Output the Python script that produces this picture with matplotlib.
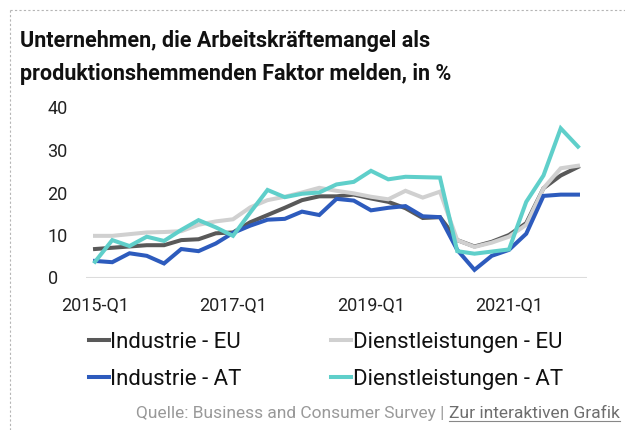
import matplotlib

matplotlib.use("Agg")
import matplotlib.pyplot as plt  # noqa: E402
from matplotlib.lines import Line2D  # noqa: E402

FONT = ["Liberation Sans Narrow", "Roboto", "DejaVu Sans"]
plt.rcParams["font.family"] = FONT

# quarterly, 2015-Q1 .. 2022-Q1
quarters = [f"{y}-Q{q}" for y in range(2015, 2023) for q in range(1, 5)][:29]
tick_labels = ["2015-Q1", "2017-Q1", "2019-Q1", "2021-Q1"]

industrie_eu = [6.7, 7.0, 7.3, 7.6, 7.6, 8.8, 9.0, 10.4, 10.6, 13.0, 14.7, 16.4, 18.2,
                19.1, 19.1, 19.5, 18.6, 17.8, 16.3, 14.0, 14.2, 8.8, 7.3, 8.4, 10.0,
                12.8, 21.0, 24.0, 26.0]
dienst_eu = [9.8, 9.8, 10.2, 10.6, 10.7, 10.9, 12.4, 13.2, 13.7, 16.5, 18.2, 19.0, 20.0,
             21.1, 20.4, 19.8, 19.0, 18.4, 20.4, 18.8, 20.2, 8.8, 7.2, 8.2, 9.6,
             12.4, 21.0, 25.7, 26.3]
industrie_at = [3.9, 3.6, 5.7, 5.1, 3.3, 6.7, 6.2, 8.0, 10.5, 12.2, 13.6, 13.8, 15.5,
                14.7, 18.5, 18.1, 15.8, 16.4, 16.8, 14.4, 14.2, 6.5, 1.8, 5.1, 6.5,
                10.3, 19.2, 19.5, 19.5]
dienst_at = [3.7, 8.8, 7.4, 9.6, 8.6, 11.2, 13.5, 11.8, 9.8, 15.3, 20.6, 18.9, 19.7,
             20.0, 21.9, 22.5, 25.1, 23.1, 23.7, 23.6, 23.5, 6.2, 5.6, 6.1, 6.6,
             17.8, 24.0, 35.1, 30.8]

series = [
    ("Industrie - EU", industrie_eu, "#595959"),
    ("Dienstleistungen - EU", dienst_eu, "#d0d0d0"),
    ("Industrie - AT", industrie_at, "#2d5bbd"),
    ("Dienstleistungen - AT", dienst_at, "#5fcfca"),
]

W, H = 625, 430
fig = plt.figure(figsize=(W / 100, H / 100), dpi=100)
fig.patch.set_facecolor("white")

# dashed frame on top and left
border = dict(color="#b5b5b5", lw=0.8, ls=(0, (2, 2)), transform=fig.transFigure)
fig.add_artist(Line2D([10 / W, 1], [1 - 10 / H, 1 - 10 / H], **border))
fig.add_artist(Line2D([10 / W, 10 / W], [0, 1 - 10 / H], **border))

title = ["Unternehmen, die Arbeitskräftemangel als",
         "produktionshemmenden Faktor melden, in %"]
for i, line in enumerate(title):
    fig.text(20 / W, 1 - (47 + 33 * i) / H, line, fontsize=15.5, fontweight="bold",
             color="#111111", va="baseline")

ax = fig.add_axes([86.4 / W, 1 - 277.5 / H, 500.2 / W, 170 / H])
x = list(range(len(quarters)))
handles = []
for label, vals, col in series:
    (ln,) = ax.plot(x, vals, color=col, lw=2.9, solid_joinstyle="miter",
                    clip_on=False, label=label)
    handles.append(ln)

ax.set_xlim(-0.5, len(quarters) - 0.5)
ax.set_ylim(0, 40)
ax.axhline(0, color="#dcdcdc", lw=1.5, zorder=0)
for s in ax.spines.values():
    s.set_visible(False)
ax.set_yticks([0, 10, 20, 30, 40])
ax.set_xticks([quarters.index(t) for t in tick_labels])
ax.set_xticklabels(tick_labels)
ax.tick_params(axis="both", length=0, labelsize=13, labelcolor="#222222")
ax.tick_params(axis="y", pad=28)
ax.tick_params(axis="x", pad=14)
for t in ax.get_yticklabels():
    t.set_horizontalalignment("left")

# legend fills column-wise: EU row first, AT row second
leg = fig.legend(handles=[handles[0], handles[2], handles[1], handles[3]],
                 ncol=2, frameon=False, fontsize=16,
                 loc="upper left", bbox_to_anchor=(89 / W, 1 - 332 / H),
                 handlelength=0.9, handletextpad=0.05, columnspacing=4.05,
                 labelspacing=0.7, borderaxespad=0, borderpad=0)
for t in leg.get_texts():
    t.set_color("#111111")

# source line, right aligned, link part underlined
fig.canvas.draw()
r = fig.canvas.get_renderer()
link = fig.text(620 / W, 1 - 418 / H, "Zur interaktiven Grafik", fontsize=12.5,
                color="#6e6e6e", ha="right", va="baseline")
bb = link.get_window_extent(renderer=r)
fig.text(bb.x0 / W, 1 - 418 / H, "Quelle: Business and Consumer Survey | ",
         fontsize=12.5, color="#999999", ha="right", va="baseline")
fig.add_artist(Line2D([bb.x0 / W, bb.x1 / W], [1 - 421 / H, 1 - 421 / H],
                      color="#888888", lw=0.8, transform=fig.transFigure))

fig.savefig("out.png", dpi=100, facecolor="white")
